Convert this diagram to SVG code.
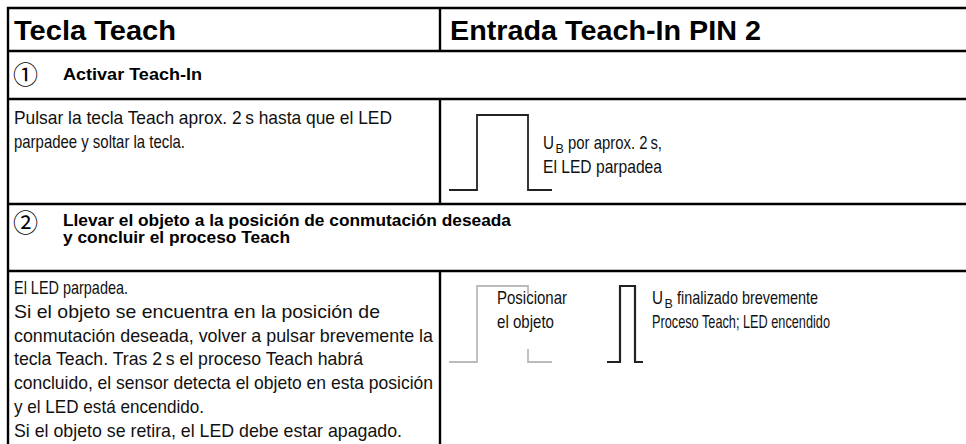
<svg xmlns="http://www.w3.org/2000/svg" width="966" height="444" viewBox="0 0 966 444">
<style>
.grid{stroke:#000;stroke-width:2.4;fill:none}
.title{font-family:"Liberation Sans",Arial,sans-serif;font-weight:bold;font-size:28px;fill:#000}
.step{font-family:"Liberation Sans",Arial,sans-serif;font-weight:bold;font-size:16.5px;fill:#000}
.num{font-family:"Noto Sans CJK JP","DejaVu Sans",sans-serif;font-size:25px;fill:#000}
.body{font-family:"Liberation Sans",Arial,sans-serif;font-size:18.5px;fill:#111}
.sub{font-family:"Liberation Sans",Arial,sans-serif;font-size:12.5px;fill:#111}
.pulse{fill:none;stroke:#222;stroke-width:1.8}
.pulse-gray{fill:none;stroke:#bbb;stroke-width:1.8}
</style>
<rect width="966" height="444" fill="#fff"/>
<g id="table-lines">
<path class="grid" d="M8 444V8H966M8 51H966M8 99H966M8 204H966M8 271H966M440 8V51M440 99V204M440 271V444"/>
</g>
<g id="header">
<text class="title" x="14" y="40" textLength="162" lengthAdjust="spacingAndGlyphs">Tecla Teach</text>
<text class="title" x="450" y="40" textLength="311" lengthAdjust="spacingAndGlyphs">Entrada Teach-In PIN 2</text>
</g>
<g id="step1-header">
<text class="num" x="25.5" y="84" text-anchor="middle">①</text>
<text class="step" x="63" y="80" textLength="139" lengthAdjust="spacingAndGlyphs">Activar Teach-In</text>
</g>
<g id="step1-key">
<text class="body" x="14" y="124" textLength="378" lengthAdjust="spacingAndGlyphs">Pulsar la tecla Teach aprox. 2&#8201;s hasta que el LED</text>
<text class="body" x="14" y="147.8" textLength="171" lengthAdjust="spacingAndGlyphs">parpadee y soltar la tecla.</text>
</g>
<g id="step1-input">
<path class="pulse" d="M449 190H477V115H528V190H552"/>
<text class="body" x="543" y="149" textLength="11" lengthAdjust="spacingAndGlyphs">U</text>
<text class="sub" x="555.5" y="153">B</text>
<text class="body" x="568" y="149" textLength="94" lengthAdjust="spacingAndGlyphs">por aprox. 2&#8201;s,</text>
<text class="body" x="543" y="172.5" textLength="119" lengthAdjust="spacingAndGlyphs">El LED parpadea</text>
</g>
<g id="step2-header">
<text class="num" x="25.5" y="232" text-anchor="middle">②</text>
<text class="step" x="63" y="226" textLength="448" lengthAdjust="spacingAndGlyphs">Llevar el objeto a la posición de conmutación deseada</text>
<text class="step" x="63" y="243" textLength="227" lengthAdjust="spacingAndGlyphs">y concluir el proceso Teach</text>
</g>
<g id="step2-key">
<text class="body" x="14" y="294" textLength="114" lengthAdjust="spacingAndGlyphs">El LED parpadea.</text>
<text class="body" x="14" y="317.8" textLength="366" lengthAdjust="spacingAndGlyphs">Si el objeto se encuentra en la posición de</text>
<text class="body" x="14" y="341.6" textLength="419" lengthAdjust="spacingAndGlyphs">conmutación deseada, volver a pulsar brevemente la</text>
<text class="body" x="14" y="365.4" textLength="349" lengthAdjust="spacingAndGlyphs">tecla Teach. Tras 2&#8201;s el proceso Teach habrá</text>
<text class="body" x="14" y="389.2" textLength="419" lengthAdjust="spacingAndGlyphs">concluido, el sensor detecta el objeto en esta posición</text>
<text class="body" x="14" y="413" textLength="190" lengthAdjust="spacingAndGlyphs">y el LED está encendido.</text>
<text class="body" x="14" y="436.8" textLength="388" lengthAdjust="spacingAndGlyphs">Si el objeto se retira, el LED debe estar apagado.</text>
</g>
<g id="step2-input">
<path class="pulse-gray" d="M449 362H477V286H528V294M528 349V362H552"/>
<text class="body" x="497" y="304" textLength="70" lengthAdjust="spacingAndGlyphs">Posicionar</text>
<text class="body" x="497" y="327.5" textLength="57" lengthAdjust="spacingAndGlyphs">el objeto</text>
<path class="pulse" d="M607 362H620V286H635V362H643" style="stroke-width:2.2"/>
<text class="body" x="652" y="304" textLength="11" lengthAdjust="spacingAndGlyphs">U</text>
<text class="sub" x="664.5" y="308">B</text>
<text class="body" x="677" y="304" textLength="141" lengthAdjust="spacingAndGlyphs">finalizado brevemente</text>
<text class="body" x="652" y="327.5" textLength="178" lengthAdjust="spacingAndGlyphs">Proceso Teach; LED encendido</text>
</g>
</svg>
